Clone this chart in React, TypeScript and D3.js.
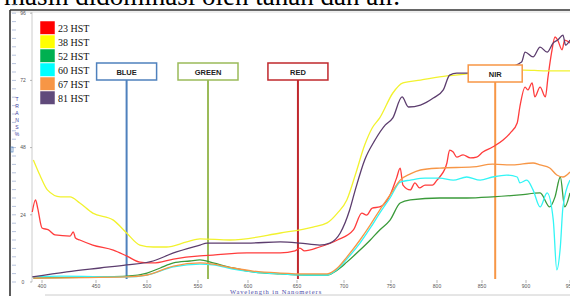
import React from "react";
import * as d3 from "d3";

// wavelength (nm), value (%)
const hst23: [number, number][] = [
  [391, 25], [394, 29.3], [396, 26.4], [400, 19.3], [406, 18.6], [412, 16.8], [426, 16.4],
  [429, 17.9], [431, 15.7], [435, 15], [447, 13.2], [467, 11.4], [480, 9.3], [493, 7.1],
  [506, 6.8], [526, 8.2], [552, 9.3], [565, 9.6], [599, 10.4], [633, 10.4], [648, 11.1],
  [653, 12.1], [658, 11.1], [674, 12.5], [693, 15], [710, 18.6], [719, 24.6], [724, 23.9],
  [730, 26.4], [738, 26.8], [749, 31.1], [756, 37.1], [760, 40.7], [763, 34.6], [771, 32.9],
  [776, 35.4], [781, 33.6], [787, 34.6], [795, 34.6], [800, 36.4], [803, 37.5], [811, 42.5],
  [814, 47.1], [818, 46.4], [822, 44.6], [829, 45.4], [837, 44.3], [844, 44.6], [851, 46.4],
  [862, 48.2], [874, 50.7], [882, 53.2], [890, 56.8], [893, 62.5], [899, 69.6], [902, 68.6],
  [907, 71.1], [910, 66.1], [916, 69.6], [922, 66.1], [925, 73.2], [929, 81.8], [933, 87.5],
  [936, 86.4], [941, 82.9], [944, 86.4], [950, 85.4],
];
const hst38: [number, number][] = [
  [392, 43.6], [398, 38.2], [405, 32.9], [417, 30.4], [426, 30.4], [435, 28.2], [447, 24.6],
  [467, 22.1], [480, 17.5], [493, 13.2], [506, 12.5], [519, 12.5], [539, 14.3], [552, 15.4],
  [582, 15], [633, 17.5], [667, 19.6], [682, 21.1], [693, 24.6], [703, 29.3], [712, 38.2],
  [722, 48.9], [730, 55], [738, 58.6], [752, 67.5], [763, 71.1], [782, 72.1], [811, 73.6],
  [833, 74.3], [897, 75.7], [922, 75.4], [950, 75.4],
];
const hst52: [number, number][] = [
  [392, 1.4], [454, 1.8], [480, 2.1], [500, 3.2], [513, 5], [526, 6.8], [542, 7.5], [552, 7.9],
  [565, 6.8], [585, 5], [605, 3.6], [633, 2.9], [661, 2.5], [682, 2.5], [693, 4.3], [703, 7.1],
  [717, 11.4], [728, 15], [738, 18.6], [749, 22.1], [760, 28.2], [771, 29.3], [803, 30],
  [833, 30], [862, 30.4], [893, 31.1], [916, 31.8], [927, 26.8], [933, 30.4], [939, 37.5],
  [944, 26.8], [950, 31.8],
];
const hst60: [number, number][] = [
  [392, 1.8], [417, 2.1], [480, 1.8], [500, 2.5], [526, 5.4], [552, 6.4], [565, 6.1],
  [585, 4.6], [605, 3.6], [633, 2.9], [661, 2.5], [682, 2.5], [693, 4.6], [703, 8.2],
  [717, 13.9], [728, 19.3], [738, 24.6], [749, 30], [760, 35.7], [771, 36.4], [787, 37.1],
  [803, 37.1], [818, 36.4], [833, 37.5], [848, 36.4], [862, 37.5], [878, 38.2], [890, 37.5],
  [893, 35.4], [901, 36.4], [908, 32.9], [916, 26.8], [924, 31.8], [931, 22.1], [935, 4.3],
  [939, 12.5], [942, 26.8], [950, 36.4],
];
const hst67: [number, number][] = [
  [392, 1.4], [480, 1.8], [500, 2.5], [526, 5.7], [552, 6.8], [565, 6.4], [585, 5], [605, 3.9],
  [633, 3.2], [661, 2.9], [682, 2.9], [693, 5], [703, 8.9], [717, 15], [728, 20.4], [738, 25.7],
  [749, 31.1], [760, 36.4], [771, 38.6], [782, 40], [803, 40.7], [840, 41.1], [862, 42.1],
  [885, 41.8], [908, 42.5], [916, 41.8], [927, 40.7], [935, 38.2], [942, 37.5], [950, 39.3],
];
const hst81: [number, number][] = [
  [391, 1.8], [423, 3.6], [454, 5], [480, 6.1], [506, 7.5], [526, 10.4], [552, 13.2],
  [559, 13.9], [599, 13.9], [633, 14.3], [653, 13.9], [674, 13.2], [685, 13.9], [696, 17.5],
  [706, 25.7], [712, 32.9], [722, 43.6], [733, 50.7], [744, 56.1], [752, 58.6], [762, 66.1],
  [769, 62.5], [782, 63.2], [796, 65.7], [807, 68.6], [814, 73.9], [822, 74.6], [833, 74.6],
  [870, 75.7], [895, 78.6], [899, 82.1], [908, 80.4], [916, 83.9], [924, 82.1], [931, 85.4],
  [936, 86.4], [942, 88.2], [945, 84.6], [950, 86.4],
];

const legendLabels = ["23 HST", "38 HST", "52 HST", "60 HST", "67 HST", "81 HST"];
const legendColors = ["#ff0000", "#ffff00", "#00b050", "#00ffff", "#f79646", "#604a7b"];
const lineColors = ["#ff3c3c", "#f2f22e", "#3a9a3a", "#33f5f5", "#f79646", "#5c3d6e"];
const seriesData = [hst23, hst38, hst52, hst60, hst67, hst81];

const bandLabels = ["BLUE", "GREEN", "RED", "NIR"];
const bandWavelengths = [480, 560, 651, 865];
const bandColors = ["#4f81bd", "#9bbb59", "#c0282d", "#f79646"];

const xTicks = [400, 450, 500, 550, 600, 650, 700, 750, 800, 850, 900, 950];
const yTicks = [0, 24, 48, 72, 96];

// spectrometer axis is not quite linear in wavelength
const x = d3
  .scaleLinear()
  .domain(xTicks)
  .range([42, 96, 147, 198, 248, 297, 344, 391, 437, 482, 526, 570]);
const y = d3.scaleLinear().domain([0, 96]).range([282, 13.2]);

const line = d3
  .line<[number, number]>()
  .x((d) => x(d[0]))
  .y((d) => y(d[1]))
  .curve(d3.curveMonotoneX);

const minorTicks = d3.range(0, 100, 3);
const axisLetters = ["T", "R", "A", "N", "S", "%"];

export default function App() {
  return (
    <>
      <style>{`body{margin:0}`}</style>
      <svg width={570} height={296} style={{ display: "block", background: "#fff" }}>
        <text x={4} y={5} fontFamily="Liberation Serif, serif" fontSize={27} fill="#000">
          masih didominasi oleh tanah dan air.
        </text>

        {/* frame */}
        <line x1={10} x2={570} y1={10} y2={10} stroke="#333" strokeWidth={1.6} />
        <line x1={10} x2={570} y1={12} y2={12} stroke="#ddd" strokeWidth={1} />
        <line x1={10} x2={10} y1={10} y2={296} stroke="#333" strokeWidth={1.6} />
        <line x1={32} x2={32} y1={12} y2={282} stroke="#ccc" strokeWidth={1} />
        <line x1={45} x2={570} y1={295} y2={295} stroke="#ccc" strokeWidth={1} />

        {minorTicks.map((t) => (
          <line key={t} x1={12} x2={16} y1={y(t)} y2={y(t)} stroke="#9aaad0" strokeWidth={0.7} />
        ))}
        <rect x={11} y={147} width={2} height={5} fill="none" stroke="#4f81bd" strokeWidth={0.7} />
        {axisLetters.map((c, i) => (
          <text key={i} x={17} y={101 + i * 7} fontSize={5} fill="#4040a0" fontFamily="Liberation Sans, sans-serif" textAnchor="middle">
            {c}
          </text>
        ))}

        {yTicks.map((t) => (
          <g key={t}>
            <line x1={30} x2={32} y1={y(t)} y2={y(t)} stroke="#999" strokeWidth={0.7} />
            <text x={23} y={y(t) + 1.8} fontSize={5} fill="#555" fontFamily="Liberation Sans, sans-serif" textAnchor="middle">
              {t}
            </text>
          </g>
        ))}

        {xTicks.map((t) => (
          <g key={t}>
            <line x1={x(t)} x2={x(t)} y1={280} y2={283} stroke="#999" strokeWidth={0.7} />
            <text x={x(t)} y={288} fontSize={5} fill="#555" fontFamily="Liberation Sans, sans-serif" textAnchor="middle">
              {t}
            </text>
          </g>
        ))}
        <text x={276} y={293.5} fontSize={6.5} fill="#4b4ba8" fontFamily="Liberation Serif, serif" textAnchor="middle" letterSpacing={0.9}>
          Wavelength in Nanometers
        </text>

        {/* band markers */}
        {bandWavelengths.map((w, i) => (
          <line key={i} x1={x(w)} x2={x(w)} y1={80} y2={279} stroke={bandColors[i]} strokeWidth={2} />
        ))}

        {seriesData.map((d, i) => (
          <path key={i} d={line(d) ?? ""} fill="none" stroke={lineColors[i]} strokeWidth={1.3} />
        ))}

        {bandWavelengths.map((w, i) => {
          const bw = i === 3 ? 54 : 60;
          const top = i === 3 ? 65 : 63;
          return (
            <g key={i}>
              <rect x={x(w) - bw / 2} y={top} width={bw} height={17} fill="#fff" stroke={bandColors[i]} strokeWidth={1.5} />
              <text x={x(w)} y={top + 11.5} fontSize={7.5} fontWeight="bold" fill="#222" fontFamily="Liberation Sans, sans-serif" textAnchor="middle">
                {bandLabels[i]}
              </text>
            </g>
          );
        })}

        {/* legend */}
        {legendLabels.map((l, i) => (
          <g key={l}>
            <rect x={40} y={21 + i * 14} width={15} height={13.5} fill={legendColors[i]} stroke="#fff" strokeWidth={0.5} />
            <text x={58} y={31.5 + i * 14} fontSize={10} fill="#111" fontFamily="Liberation Serif, serif">
              {l}
            </text>
          </g>
        ))}
      </svg>
    </>
  );
}
